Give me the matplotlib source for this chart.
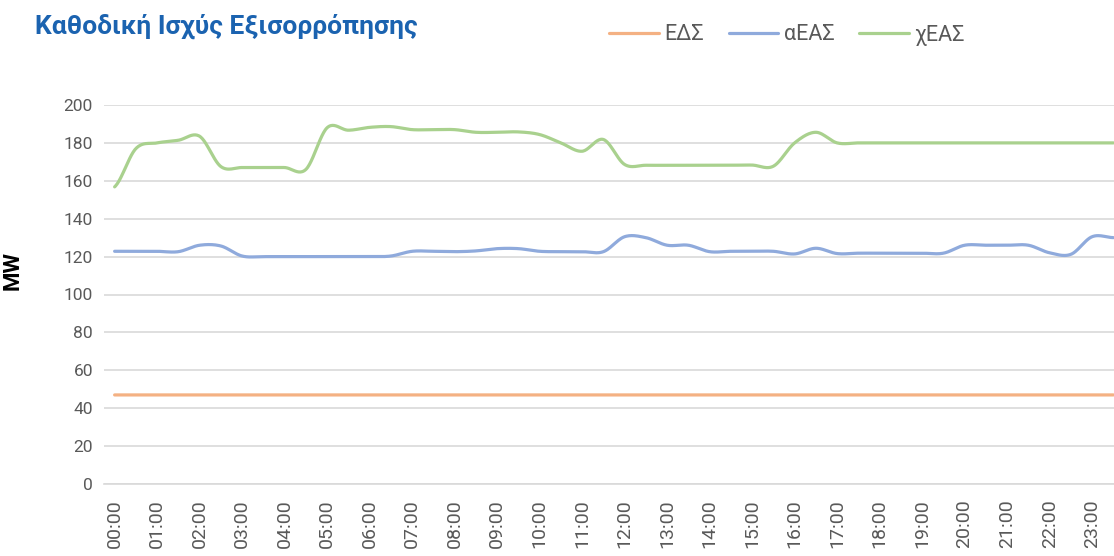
import numpy as np
import matplotlib
matplotlib.use("Agg")
import matplotlib.pyplot as plt

# half-hourly values, 00:00 .. 23:30
eds = [47] * 48
aeas = [122.8, 122.8, 122.8, 122.6, 126.0, 125.6, 120.3, 120.0, 120.0, 120.0,
        120.0, 120.0, 120.0, 120.3, 122.8, 122.8, 122.6, 123.0, 124.2, 124.2,
        122.8, 122.6, 122.6, 122.6, 130.5, 130.0, 126.0, 126.0, 122.6, 122.8,
        122.8, 122.8, 121.4, 124.4, 121.6, 121.8, 121.8, 121.8, 121.8, 121.8,
        126.0, 126.0, 126.0, 126.0, 122.0, 121.2, 130.5, 130.0]
xeas = [156.8, 177.0, 180.0, 181.4, 183.5, 167.5, 167.0, 167.0, 167.0, 166.0,
        188.0, 186.7, 188.2, 188.6, 187.0, 187.0, 187.0, 185.6, 185.6, 185.8,
        184.4, 180.0, 175.6, 181.8, 168.6, 168.2, 168.2, 168.2, 168.2, 168.2,
        168.3, 167.7, 180.0, 185.6, 180.0, 180.0, 180.0, 180.0, 180.0, 180.0,
        180.0, 180.0, 180.0, 180.0, 180.0, 180.0, 180.0, 180.0]
times = ["%02d:%02d" % (h, m) for h in range(24) for m in (0, 30)]
series = [("ΕΔΣ", eds, "#F4B183"), ("αΕΑΣ", aeas, "#8FAADC"), ("χΕΑΣ", xeas, "#A9D18E")]

GRAY = "#595959"
plt.rcParams["font.family"] = ["Roboto", "DejaVu Sans"]


def smooth(y, n=24):
    # bezier smoothing like office "smoothed line"
    y = np.asarray(y, float)
    p = np.concatenate([[y[0]], y, [y[-1]]])
    t = np.linspace(0, 1, n, endpoint=False)
    xs, ys = [], []
    for i in range(len(y) - 1):
        p0, p1, p2, p3 = p[i], p[i + 1], p[i + 2], p[i + 3]
        c1 = p1 + (p2 - p0) / 6
        c2 = p2 - (p3 - p1) / 6
        ys.append((1 - t) ** 3 * p1 + 3 * (1 - t) ** 2 * t * c1 + 3 * (1 - t) * t ** 2 * c2 + t ** 3 * p2)
        xs.append(i + t)
    xs.append([len(y) - 1]); ys.append([y[-1]])
    return np.concatenate(xs), np.concatenate(ys)


fig = plt.figure(figsize=(11.14, 5.56), dpi=100)
ax = fig.add_axes([104 / 1114, 72 / 556, 1020 / 1114, 379 / 556])

for name, vals, col in series:
    sx, sy = smooth(vals)
    ax.plot(sx, sy, color=col, lw=2.3, label=name, solid_capstyle="round")

ax.set_xlim(-0.5, 47.5)
ax.set_ylim(0, 200)
ax.set_yticks(np.arange(0, 201, 20))
ax.set_xticks(range(0, 48, 2))
ax.set_xticklabels(times[::2], rotation=90, color=GRAY, fontsize=14)
ax.tick_params(axis="y", labelcolor=GRAY, labelsize=12.5, length=0, pad=8)
ax.tick_params(axis="x", length=0, pad=11)
ax.grid(axis="y", color="#D9D9D9", lw=1.2)
ax.set_axisbelow(True)
for s in ["top", "right", "left"]:
    ax.spines[s].set_visible(False)
ax.spines["bottom"].set_color("#D9D9D9")
ax.spines["bottom"].set_linewidth(1.2)

fig.text(13 / 1114, 1 - 270 / 556, "MW", fontsize=16, fontweight="bold", color="black",
         rotation=90, ha="center", va="center")
fig.text(35 / 1114, 1 - 26 / 556, "Καθοδική Ισχύς Εξισορρόπησης", fontsize=19,
         fontweight="bold", color="#1B63B0", va="center", ha="left")
fig.legend(loc="center", bbox_to_anchor=(787 / 1114, 1 - 35 / 556), ncol=3, frameon=False,
           fontsize=15.5, labelcolor=GRAY, handlelength=2.3, handletextpad=0.25, columnspacing=1.15)

fig.savefig("out.png", dpi=100)
